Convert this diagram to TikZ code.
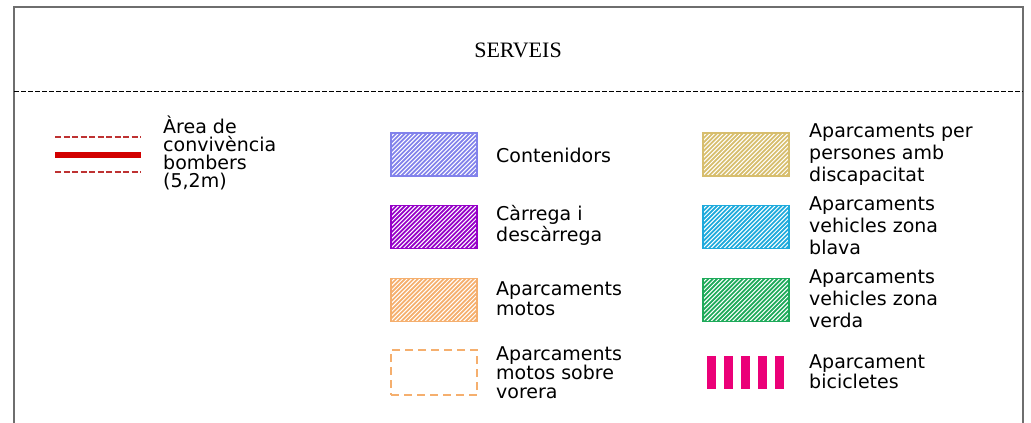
\documentclass[tikz,border=0pt]{standalone}
\usepackage{fontspec}
\setmainfont{Liberation Serif}
\newfontfamily\cadfont{DejaVu Sans}
\usetikzlibrary{calc}
\definecolor{framegray}{RGB}{110,110,110}
\definecolor{ccont}{RGB}{130,130,235}
\definecolor{ccarr}{RGB}{150,0,200}
\definecolor{cmoto}{RGB}{245,175,110}
\definecolor{cdisc}{RGB}{215,190,110}
\definecolor{cblau}{RGB}{30,170,220}
\definecolor{cverd}{RGB}{30,170,90}
\definecolor{cbici}{RGB}{235,0,120}
\definecolor{cred}{RGB}{210,0,0}
\definecolor{cdred}{RGB}{190,50,50}
\tikzset{
  legtext/.style={anchor=base west, align=left, inner sep=0pt,
    font=\cadfont\fontsize{19}{#1}\selectfont},
  swatch/.style={draw=#1, fill=#1, line width=1.2pt,
    minimum width=86pt, minimum height=43pt, inner sep=0pt,
    path picture={
      \foreach \k in {0,...,34}
        \draw[white, line width=1.0pt]
          ($(path picture bounding box.south west)+(\k*4.3-50,2)$) -- ++(54,-54);
    }},
  dashbox/.style={draw=#1, line width=1.2pt, dash pattern=on 8pt off 5pt,
    minimum width=86pt, minimum height=45pt, inner sep=0pt},
  bar/.style={fill=cbici, minimum width=8.5pt, minimum height=33pt, inner sep=0pt},
  redline/.style={cdred, line width=1.2pt, dash pattern=on 6pt off 2.5pt}
}
\begin{document}
\begin{tikzpicture}[x=1pt,y=-1pt]
\useasboundingbox (0,0) rectangle (1031,423);
\clip (0,0) rectangle (1031,423);
% frame
\coordinate (fbl) at (14,440);
\coordinate (ftl) at (14,7);
\coordinate (ftr) at (1023,7);
\coordinate (fbr) at (1023,440);
\draw[framegray, line width=2pt] (fbl) -- (ftl) -- (ftr) -- (fbr);
\coordinate (dl) at (14,91);
\coordinate (dr) at (1023,91);
\draw[black, line width=0.8pt, dash pattern=on 5pt off 2pt] (dl) -- (dr);
\node[font=\fontsize{22}{24}\selectfont] (title) at (518,50) {SERVEIS};
% left legend
\coordinate (r1a) at (55,137); \coordinate (r1b) at (141,137);
\coordinate (r2a) at (55,155); \coordinate (r2b) at (141,155);
\coordinate (r3a) at (55,172); \coordinate (r3b) at (141,172);
\draw[redline] (r1a) -- (r1b);
\draw[cred, line width=6pt] (r2a) -- (r2b);
\draw[redline] (r3a) -- (r3b);
\node[legtext=18] (tbomb) at (163,187) {Àrea de\\convivència\\bombers\\(5,2m)};
% middle column
\node[swatch=ccont] (scont) at (434,154.5) {};
\node[legtext=20] (tcont) at (496,162) {Contenidors};
\node[swatch=ccarr] (scarr) at (434,227) {};
\node[legtext=16.5] (tcarr) at (496,241) {Càrrega i\\descàrrega};
\node[swatch=cmoto] (smoto) at (434,300) {};
\node[legtext=20] (tmoto) at (496,315) {Aparcaments\\motos};
\node[dashbox=cmoto] (svore) at (434,372.5) {};
\node[legtext=19] (tvore) at (496,398) {Aparcaments\\motos sobre\\vorera};
% right column
\node[swatch=cdisc] (sdisc) at (746,154.5) {};
\node[legtext=22] (tdisc) at (809,181) {Aparcaments per\\persones amb\\discapacitat};
\node[swatch=cblau] (sblau) at (746,227) {};
\node[legtext=22] (tblau) at (809,254) {Aparcaments\\vehicles zona\\blava};
\node[swatch=cverd] (sverd) at (746,300) {};
\node[legtext=22] (tverd) at (809,327) {Aparcaments\\vehicles zona\\verda};
\foreach \i in {0,...,4} \node[bar] (bar\i) at (711.5+17*\i,372.5) {};
\node[legtext=17] (tbici) at (809,388) {Aparcament\\bicicletes};
\end{tikzpicture}
\end{document}
